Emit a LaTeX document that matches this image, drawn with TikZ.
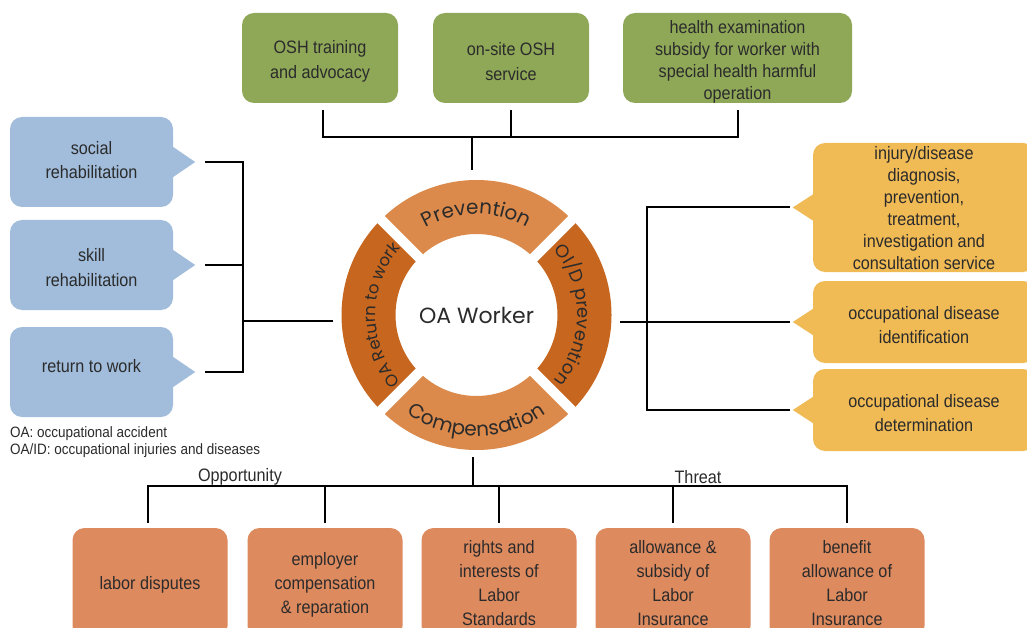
\documentclass[tikz,border=0pt]{standalone}
\usepackage{fontspec}
\setmainfont{Liberation Sans}[FakeStretch=0.9]
\newfontfamily\ringfont{Poppins}
\usetikzlibrary{calc,decorations.text}
\definecolor{gbox}{HTML}{8FA858}
\definecolor{bbox}{HTML}{A1BDDB}
\definecolor{ybox}{HTML}{F0BA55}
\definecolor{obox}{HTML}{DE8A5F}
\definecolor{ringl}{HTML}{DC8A4B}
\definecolor{ringd}{HTML}{C6661F}
\definecolor{txt}{HTML}{2B2B2B}
\newcommand\tdn[1]{\rule{0pt}{\dimexpr 13pt+#1*2\relax}}
\begin{document}
\begin{tikzpicture}[x=1pt,y=1pt,
  conn/.style={draw=black,line width=2pt},
  boxbase/.style={rounded corners=12pt, align=center, inner sep=0pt, text=txt,
    font=\fontsize{18}{24}\selectfont},
  tup/.style={execute at end node={\rule[-\dimexpr #1*2\relax]{0pt}{0pt}}},
  greenbox/.style={boxbase, fill=gbox, minimum width=156pt, minimum height=90pt},
  bluebox/.style={boxbase, fill=bbox, minimum width=163pt, minimum height=90pt},
  yellowbox/.style={boxbase, fill=ybox, minimum width=222pt},
  orangebox/.style={boxbase, fill=obox, minimum width=155pt, minimum height=110pt},
  lbl/.style={text=txt, inner sep=0pt, font=\fontsize{18}{22}\selectfont},
  ringtext/.style={decorate, decoration={text along path, text align=center, text color=txt, text={#1}}}
]
\useasboundingbox (0,0) rectangle (1027,-628);
\fill[white] (0,0) rectangle (1027,-628);

% ring
\coordinate (c) at (476.5,-315);
\foreach \a/\col in {45/ringl,135/ringd,225/ringl,315/ringd}{
  \fill[\col] ($(c)+(\a:135)$) arc[start angle=\a, end angle=\a+90, radius=135]
    -- ($(c)+(\a+90:81)$) arc[start angle=\a+90, end angle=\a, radius=81] -- cycle;
}
\foreach \a in {45,135,225,315}{
  \draw[white, line width=10pt] ($(c)+(\a:75)$) -- ($(c)+(\a:142)$);
}
\node[circle, minimum size=270pt, inner sep=0pt] (ring) at (c) {};
\node[text=txt, font=\ringfont\fontsize{22}{26}\selectfont] (w) at (c) {OA Worker};
\path[ringtext={|\ringfont\fontsize{20}{24}\selectfont|Prevention}]
  ($(c)+(150:101)$) arc[start angle=150, end angle=30, radius=101];
\path[ringtext={|\ringfont\fontsize{20}{24}\selectfont|Compensation}]
  ($(c)+(205:121)$) arc[start angle=205, end angle=335, radius=121];
\path[ringtext={|\ringfont\fontsize{16.5}{20}\selectfont|OA Return to work}]
  ($(c)+(230:101)$) arc[start angle=230, end angle=130, radius=101];
\path[ringtext={|\ringfont\fontsize{18}{22}\selectfont|OI/D prevention}]
  ($(c)+(50:101)$) arc[start angle=50, end angle=-50, radius=101];

% top green boxes
\node[greenbox, font=\fontsize{18}{25}\selectfont] (g1) at (320,-58) {\tdn{3.5pt}OSH training\\and advocacy};
\node[greenbox, font=\fontsize{18}{25}\selectfont] (g2) at (511,-58) {\tdn{3.5pt}on-site OSH\\service};
\node[greenbox, minimum width=229pt, font=\fontsize{18}{22}\selectfont] (g3) at (737.5,-58) {\tdn{3.5pt}health examination\\subsidy for worker with\\special health harmful\\operation};
\coordinate (tj) at (472,-137);
\draw[conn] ([xshift=3pt,yshift=-7pt]g1.south) |- ([yshift=-34pt]g3.south) -- ([yshift=-7pt]g3.south);
\draw[conn] ([yshift=-7pt]g2.south) -- (g2.south |- tj);
\draw[conn, shorten >=10pt] (tj) -- (tj |- ring.north);

% left blue callouts
\node[bluebox, tup=2pt] (b1) at (91.5,-162) {social\\rehabilitation};
\node[bluebox, font=\fontsize{18}{25}\selectfont] (b2) at (91.5,-265) {\tdn{2.5pt}skill\\rehabilitation};
\node[bluebox, tup=6pt] (b3) at (91.5,-372) {return to work};
\fill[bbox] ([yshift=15pt]b1.east) -- ++(22,-15) coordinate (t1) -- ([yshift=-15pt]b1.east) -- cycle;
\fill[bbox] ([yshift=15pt]b2.east) -- ++(22,-15) coordinate (t2) -- ([yshift=-15pt]b2.east) -- cycle;
\fill[bbox] ([yshift=15pt]b3.east) -- ++(22,-15) coordinate (t3) -- ([yshift=-15pt]b3.east) -- cycle;
\coordinate (lj) at (243,-321);
\draw[conn] ([xshift=10pt]t1) -| (lj |- t3) -- ([xshift=10pt]t3);
\draw[conn] ([xshift=10pt]t2) -- (lj |- t2);
\draw[conn, shorten >=8pt] (lj) -- (ring.west |- lj);

% legend
\node[anchor=north west, align=left, inner sep=0pt, text=txt, font=\fontsize{15}{17}\selectfont] (leg) at (10,-426)
  {OA: occupational accident\\OA/ID: occupational injuries and diseases};

% right yellow callouts
\node[yellowbox, minimum height=129pt, font=\fontsize{18}{22}\selectfont] (y1) at (924,-207.5)
  {\tdn{1pt}injury/disease\\diagnosis,\\prevention,\\treatment,\\investigation and\\consultation service};
\node[yellowbox, minimum height=82pt] (y2) at (924,-322) {\tdn{3pt}occupational disease\\identification};
\node[yellowbox, minimum height=82pt] (y3) at (924,-410) {\tdn{3pt}occupational disease\\determination};
\fill[ybox] ([yshift=13pt]y1.west) -- ++(-20,-13) coordinate (u1) -- ([yshift=-13pt]y1.west) -- cycle;
\fill[ybox] ([yshift=13pt]y2.west) -- ++(-20,-13) coordinate (u2) -- ([yshift=-13pt]y2.west) -- cycle;
\fill[ybox] ([yshift=13pt]y3.west) -- ++(-20,-13) coordinate (u3) -- ([yshift=-13pt]y3.west) -- cycle;
\coordinate (rj) at (647,-322);
\draw[conn] ([xshift=-3pt]u1) -| (rj |- u3) -- ([xshift=-3pt]u3);
\draw[conn, shorten >=8.5pt] ([xshift=-3pt]u2) -- (ring.east |- u2);

% bottom orange boxes
\node[orangebox] (o1) at (150,-583) {\tdn{2pt}labor disputes};
\node[orangebox] (o2) at (325,-583) {\tdn{1.5pt}employer\\compensation\\\& reparation};
\node[orangebox] (o3) at (499,-583) {rights and\\interests of\\Labor\\Standards};
\node[orangebox] (o4) at (673,-583) {allowance \&\\subsidy of\\Labor\\Insurance};
\node[orangebox] (o5) at (847,-583) {benefit\\allowance of\\Labor\\Insurance};
\coordinate (bj) at (473,-486);
\draw[conn, shorten <=7pt] (bj |- ring.south) -- (bj);
\draw[conn] ([xshift=-2pt,yshift=5pt]o1.north) |- ([yshift=42pt]o5.north) -- ([yshift=5pt]o5.north);
\draw[conn] ([yshift=5pt]o2.north) -- (o2.north |- bj);
\draw[conn] ([yshift=5pt]o3.north) -- (o3.north |- bj);
\draw[conn] ([yshift=5pt]o4.north) -- (o4.north |- bj);
\node[lbl] (opp) at (240,-477) {Opportunity};
\node[lbl] (thr) at (698,-477) {Threat};
\end{tikzpicture}
\end{document}
